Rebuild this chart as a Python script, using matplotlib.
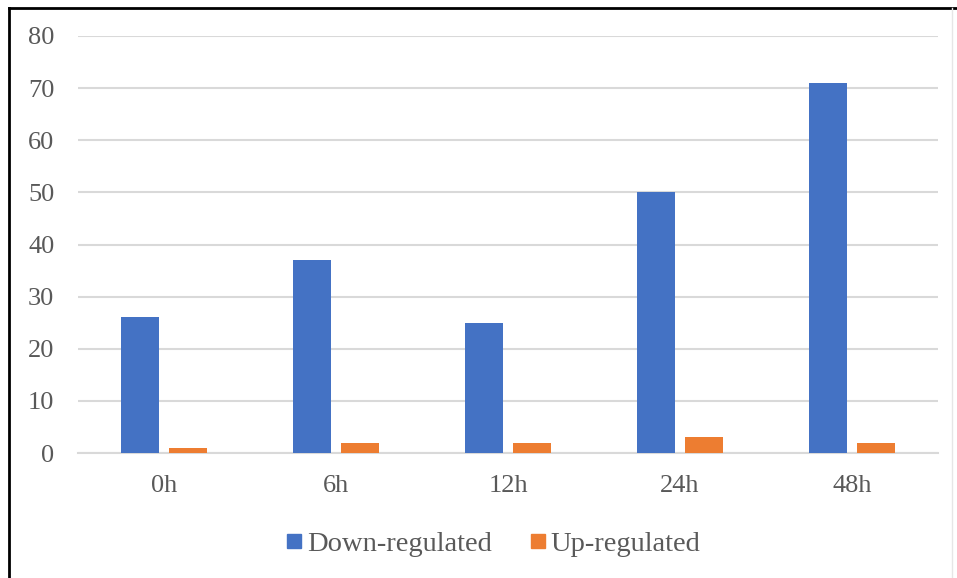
import matplotlib
matplotlib.use("Agg")
import matplotlib.pyplot as plt
from matplotlib.lines import Line2D
import numpy as np

# Data
categories = ["0h", "6h", "12h", "24h", "48h"]
down_regulated = [26, 37, 25, 50, 71]
up_regulated = [1, 2, 2, 3, 2]
series_names = ["Down-regulated", "Up-regulated"]
y_ticks = [0, 10, 20, 30, 40, 50, 60, 70, 80]

BLUE = "#4472C4"
ORANGE = "#ED7D31"
GRID = "#D9D9D9"
TEXT = "#595959"

plt.rcParams["font.family"] = ["Liberation Serif", "DejaVu Serif"]

W, H = 957, 578
fig = plt.figure(figsize=(W / 100, H / 100), dpi=100)
fig.patch.set_facecolor("white")

ax = fig.add_axes([78 / W, 1 - 453 / H, (938 - 78) / W, (453 - 36) / H])

x = np.arange(len(categories))
bw = 0.219
off = 0.139
ax.bar(x - off, down_regulated, width=bw, color=BLUE, label=series_names[0], zorder=3)
ax.bar(x + off, up_regulated, width=bw, color=ORANGE, label=series_names[1], zorder=3)

ax.set_xlim(-0.5, len(categories) - 0.5)
ax.set_ylim(0, 80)
ax.set_yticks(y_ticks)
ax.set_xticks(x)
ax.set_xticklabels(categories)
ax.yaxis.grid(True, color=GRID, linewidth=1.5, zorder=0)
ax.set_axisbelow(True)
for s in ["top", "right", "left"]:
    ax.spines[s].set_visible(False)
ax.spines["bottom"].set_color(GRID)
ax.spines["bottom"].set_linewidth(1.5)
ax.tick_params(axis="both", length=0, labelsize=19, labelcolor=TEXT)
ax.tick_params(axis="y", pad=17)
ax.tick_params(axis="x", pad=16)

handles = [
    Line2D([], [], marker="s", linestyle="none", markersize=10,
           markerfacecolor=BLUE, markeredgecolor=BLUE),
    Line2D([], [], marker="s", linestyle="none", markersize=10,
           markerfacecolor=ORANGE, markeredgecolor=ORANGE),
]
leg = fig.legend(handles, series_names, loc="center", bbox_to_anchor=(493 / W, 1 - 544 / H),
                 ncol=2, frameon=False, fontsize=20.5, handlelength=0.6,
                 handletextpad=0.15, columnspacing=1.3, labelcolor=TEXT)

# Outer frame of the chart area
fig.add_artist(Line2D([9 / W, 9 / W], [0, 1 - 8 / H], transform=fig.transFigure,
                      color="black", linewidth=2))
fig.add_artist(Line2D([9 / W, 1], [1 - 8 / H, 1 - 8 / H], transform=fig.transFigure,
                      color="black", linewidth=2))
fig.add_artist(Line2D([952 / W, 952 / W], [0, 1 - 8 / H], transform=fig.transFigure,
                      color="#E6E6E6", linewidth=1))

fig.savefig("out.png", dpi=100, facecolor="white")
